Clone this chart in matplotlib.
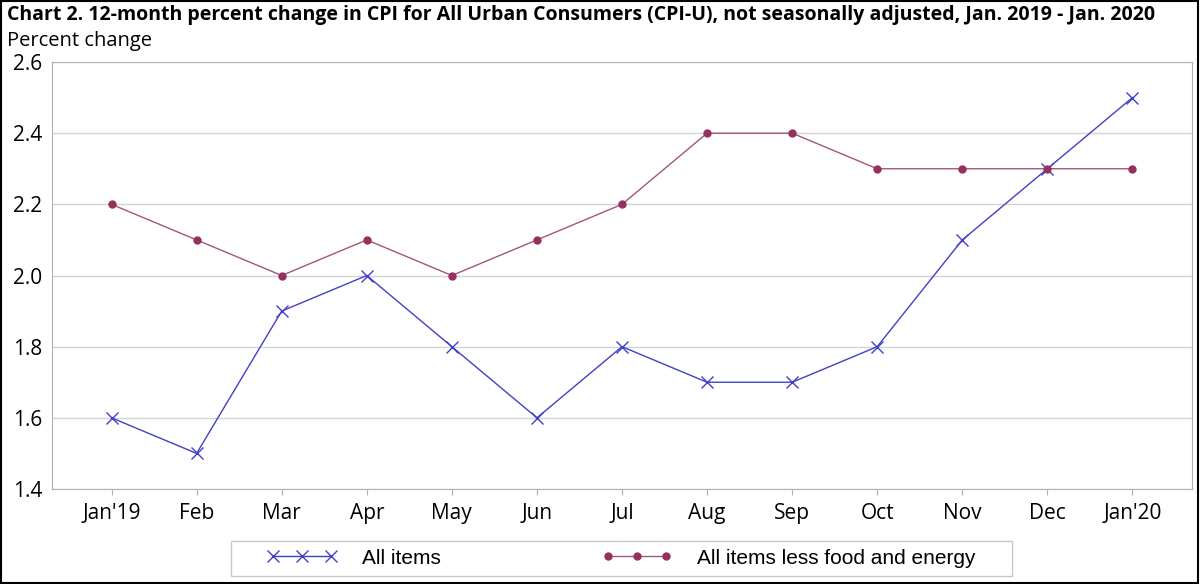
import numpy as np
import matplotlib
matplotlib.use("Agg")
import matplotlib.pyplot as plt
from matplotlib.patches import Rectangle

# Values
months = ["Jan'19", "Feb", "Mar", "Apr", "May", "Jun", "Jul",
          "Aug", "Sep", "Oct", "Nov", "Dec", "Jan'20"]
all_items = [1.6, 1.5, 1.9, 2.0, 1.8, 1.6, 1.8, 1.7, 1.7, 1.8, 2.1, 2.3, 2.5]
core = [2.2, 2.1, 2.0, 2.1, 2.0, 2.1, 2.2, 2.4, 2.4, 2.3, 2.3, 2.3, 2.3]
yticks = [1.4, 1.6, 1.8, 2.0, 2.2, 2.4, 2.6]

plt.rcParams['font.family'] = ['Open Sans', 'DejaVu Sans']

fig = plt.figure(figsize=(12, 5.84), dpi=100)
ax = fig.add_axes([52 / 1200, 1 - 489 / 584, (1192 - 52) / 1200, (489 - 62) / 584])

x = np.arange(len(months))
l1, = ax.plot(x, all_items, color='#4040c8', linewidth=1.0, marker='x',
              markersize=9, markeredgewidth=1.0, label='All items')
l2, = ax.plot(x, core, color='#a05878', linewidth=1.0, marker='o',
              markersize=5, markerfacecolor='#96305e', markeredgecolor='#96305e',
              label='All items less food and energy')

ax.set_xlim(-0.7, 12.7)
ax.set_ylim(1.4, 2.6)
ax.set_yticks(yticks)
ax.set_yticklabels([f'{v:.1f}' for v in yticks], fontsize=15)
ax.set_xticks(x)
ax.set_xticklabels(months, fontsize=15)
ax.tick_params(axis='y', length=0, pad=7)
ax.tick_params(axis='x', length=4, color='#b0b0b0', pad=6)
ax.yaxis.grid(True, color='#d4d4d4', linewidth=1.0)
ax.set_axisbelow(True)
for s in ax.spines.values():
    s.set_color('#b0b0b0')

fig.text(7 / 1200, 1 - 15 / 584, 'Chart 2. 12-month percent change in CPI for All Urban Consumers (CPI-U), '
         'not seasonally adjusted, Jan. 2019 - Jan. 2020',
         fontsize=14, fontweight='bold', va='center', ha='left')
fig.text(7 / 1200, 1 - 41 / 584, 'Percent change', fontsize=14.5, va='center', ha='left')

# legend box drawn separately so the side padding can be wider than the top/bottom
fig.patches.append(Rectangle((231 / 1200, 1 - 576 / 584), (1012 - 231) / 1200, 35 / 584,
                             transform=fig.transFigure, fill=False,
                             edgecolor='#c8c8c8', linewidth=1.0))
leg = fig.legend(handles=[l1, l2], loc='center', bbox_to_anchor=(621 / 1200, 1 - 558 / 584),
                 ncol=2, frameon=False, columnspacing=7.7,
                 numpoints=3, handlelength=3.4, handletextpad=1.2, borderpad=0,
                 borderaxespad=0,
                 prop={'family': ['Liberation Sans Narrow', 'Liberation Sans'], 'size': 15})

fig.patches.append(Rectangle((0.001, 0.001), 0.997, 0.997, transform=fig.transFigure,
                             fill=False, edgecolor='black', linewidth=1.5))

fig.savefig('out.png', dpi=100)
